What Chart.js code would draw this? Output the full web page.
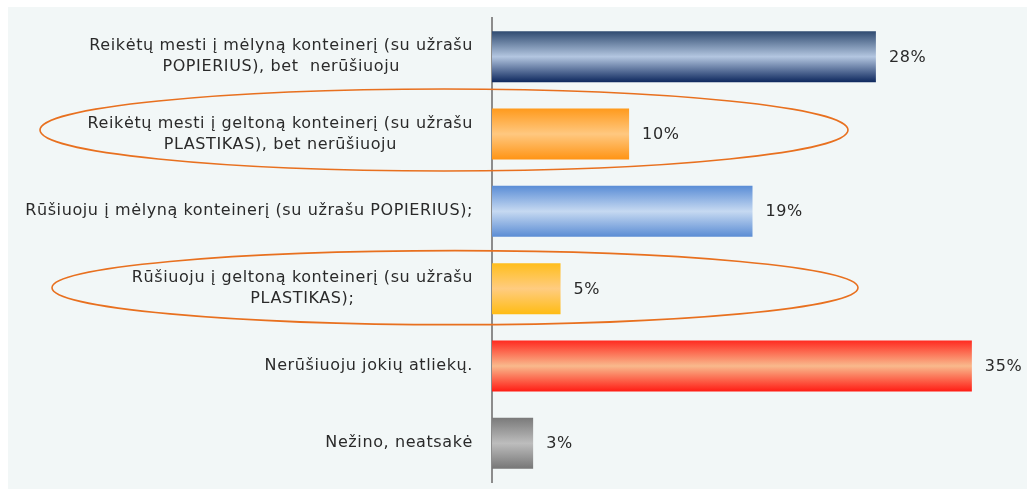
<!DOCTYPE html>
<html>
<head>
<meta charset="utf-8">
<script src="https://cdn.jsdelivr.net/npm/chart.js@4.4.1/dist/chart.umd.min.js"></script>
<style>
  html, body { margin: 0; padding: 0; background: #fff; }
  #wrap { width: 1027px; height: 489px; position: relative; }
</style>
</head>
<body>
<div id="wrap"><canvas id="recycleChart"></canvas></div>
<script>
// Kategorijos (daugiaeilutės etiketės)
const categories = [
    ['Reikėtų mesti į mėlyną konteinerį (su užrašu', 'POPIERIUS), bet  nerūšiuoju'],
    ['Reikėtų mesti į geltoną konteinerį (su užrašu', 'PLASTIKAS), bet nerūšiuoju'],
    ['Rūšiuoju į mėlyną konteinerį (su užrašu POPIERIUS);'],
    ['Rūšiuoju į geltoną konteinerį (su užrašu', 'PLASTIKAS);'],
    ['Nerūšiuoju jokių atliekų.'],
    ['Nežino, neatsakė']
];
const percentValues = [28, 10, 19, 5, 35, 3];
const highlightedRows = [1, 3]; // apvesti ovalu

// Spalvos: kraštas viršuje, vidurys, kraštas apačioje
const barTopColors = ['#2f4a70', '#ff9a1c', '#5a8dd6', '#ffbe1c', '#ff2a20', '#7a7a7a'];
const barMidColors = ['#b3c6e0', '#ffc880', '#c6d9f1', '#ffcc80', '#f9b98c', '#bdbdbd'];
const barBottomColors = ['#0e285e', '#ff9414', '#5a8cd4', '#ffbc14', '#ff1c14', '#767676'];

const FONT = '16px "DejaVu Sans"';
const LETTER_SPACING = '0.6px';
const BAR_PCT = 0.66;

function barGradient(context) {
    const chart = context.chart;
    const { ctx, chartArea, scales } = chart;
    const i = context.dataIndex;
    if (!chartArea || !scales.y) return barMidColors[i];
    const step = Math.abs(scales.y.getPixelForValue(1) - scales.y.getPixelForValue(0));
    const center = scales.y.getPixelForValue(i);
    const half = step * BAR_PCT / 2;
    const g = ctx.createLinearGradient(0, center - half, 0, center + half);
    g.addColorStop(0, barTopColors[i]);
    g.addColorStop(0.5, barMidColors[i]);
    g.addColorStop(1, barBottomColors[i]);
    return g;
}

// Fonas
const backgroundPlugin = {
    id: 'panelBackground',
    beforeDraw(chart) {
        const ctx = chart.ctx;
        ctx.save();
        ctx.fillStyle = '#ffffff';
        ctx.fillRect(0, 0, chart.width, chart.height);
        ctx.fillStyle = '#f2f7f7';
        ctx.fillRect(8, 7, chart.width - 8, chart.height - 7);
        ctx.restore();
    }
};

// Etiketės kairėje, reikšmės dešinėje, ovalai
const labelsPlugin = {
    id: 'customLabels',
    afterDatasetsDraw(chart) {
        const ctx = chart.ctx;
        const yScale = chart.scales.y;
        const xScale = chart.scales.x;
        ctx.save();
        ctx.font = FONT;
        ctx.letterSpacing = LETTER_SPACING;
        ctx.fillStyle = '#2a2a2a';
        ctx.textBaseline = 'middle';
        ctx.textAlign = 'center';

        const rightEdge = chart.chartArea.left - 19;
        const lineHeight = 21;
        categories.forEach((lines, i) => {
            const cy = yScale.getPixelForValue(i);
            const blockW = Math.max(...lines.map(l => ctx.measureText(l).width));
            const cx = rightEdge - blockW / 2;
            const startY = cy - (lines.length - 1) * lineHeight / 2;
            lines.forEach((line, k) => {
                ctx.fillText(line, cx, startY + k * lineHeight);
            });
        });

        ctx.textAlign = 'left';
        percentValues.forEach((v, i) => {
            const x = xScale.getPixelForValue(v) + 13;
            const y = yScale.getPixelForValue(i);
            ctx.fillText(v + '%', x, y + 1);
        });

        ctx.strokeStyle = '#e8701f';
        ctx.lineWidth = 1.6;
        highlightedRows.forEach((row, k) => {
            const cy = yScale.getPixelForValue(row) - (k === 0 ? 4 : 1);
            const left = k === 0 ? 40 : 52;
            const right = k === 0 ? 848 : 858;
            const ry = k === 0 ? 41 : 37;
            ctx.beginPath();
            ctx.ellipse((left + right) / 2, cy, (right - left) / 2, ry, 0, 0, Math.PI * 2);
            ctx.stroke();
        });
        ctx.restore();
    }
};

const ctx = document.getElementById('recycleChart').getContext('2d');
new Chart(ctx, {
    type: 'bar',
    data: {
        labels: categories,
        datasets: [{
            data: percentValues,
            backgroundColor: barGradient,
            borderWidth: 0,
            barPercentage: BAR_PCT,
            categoryPercentage: 1
        }]
    },
    options: {
        indexAxis: 'y',
        responsive: true,
        maintainAspectRatio: false,
        animation: false,
        layout: {
            padding: { top: 18, bottom: 7, right: 14, left: 0 }
        },
        scales: {
            x: {
                display: false,
                min: 0,
                max: 38
            },
            y: {
                display: true,
                ticks: { display: false },
                grid: { display: false, drawTicks: false },
                border: { display: true, color: '#8c8c8c', width: 2 },
                afterFit(scale) {
                    scale.width = 492;
                }
            }
        },
        plugins: {
            legend: { display: false },
            tooltip: { enabled: false }
        }
    },
    plugins: [backgroundPlugin, labelsPlugin]
});
</script>
</body>
</html>
